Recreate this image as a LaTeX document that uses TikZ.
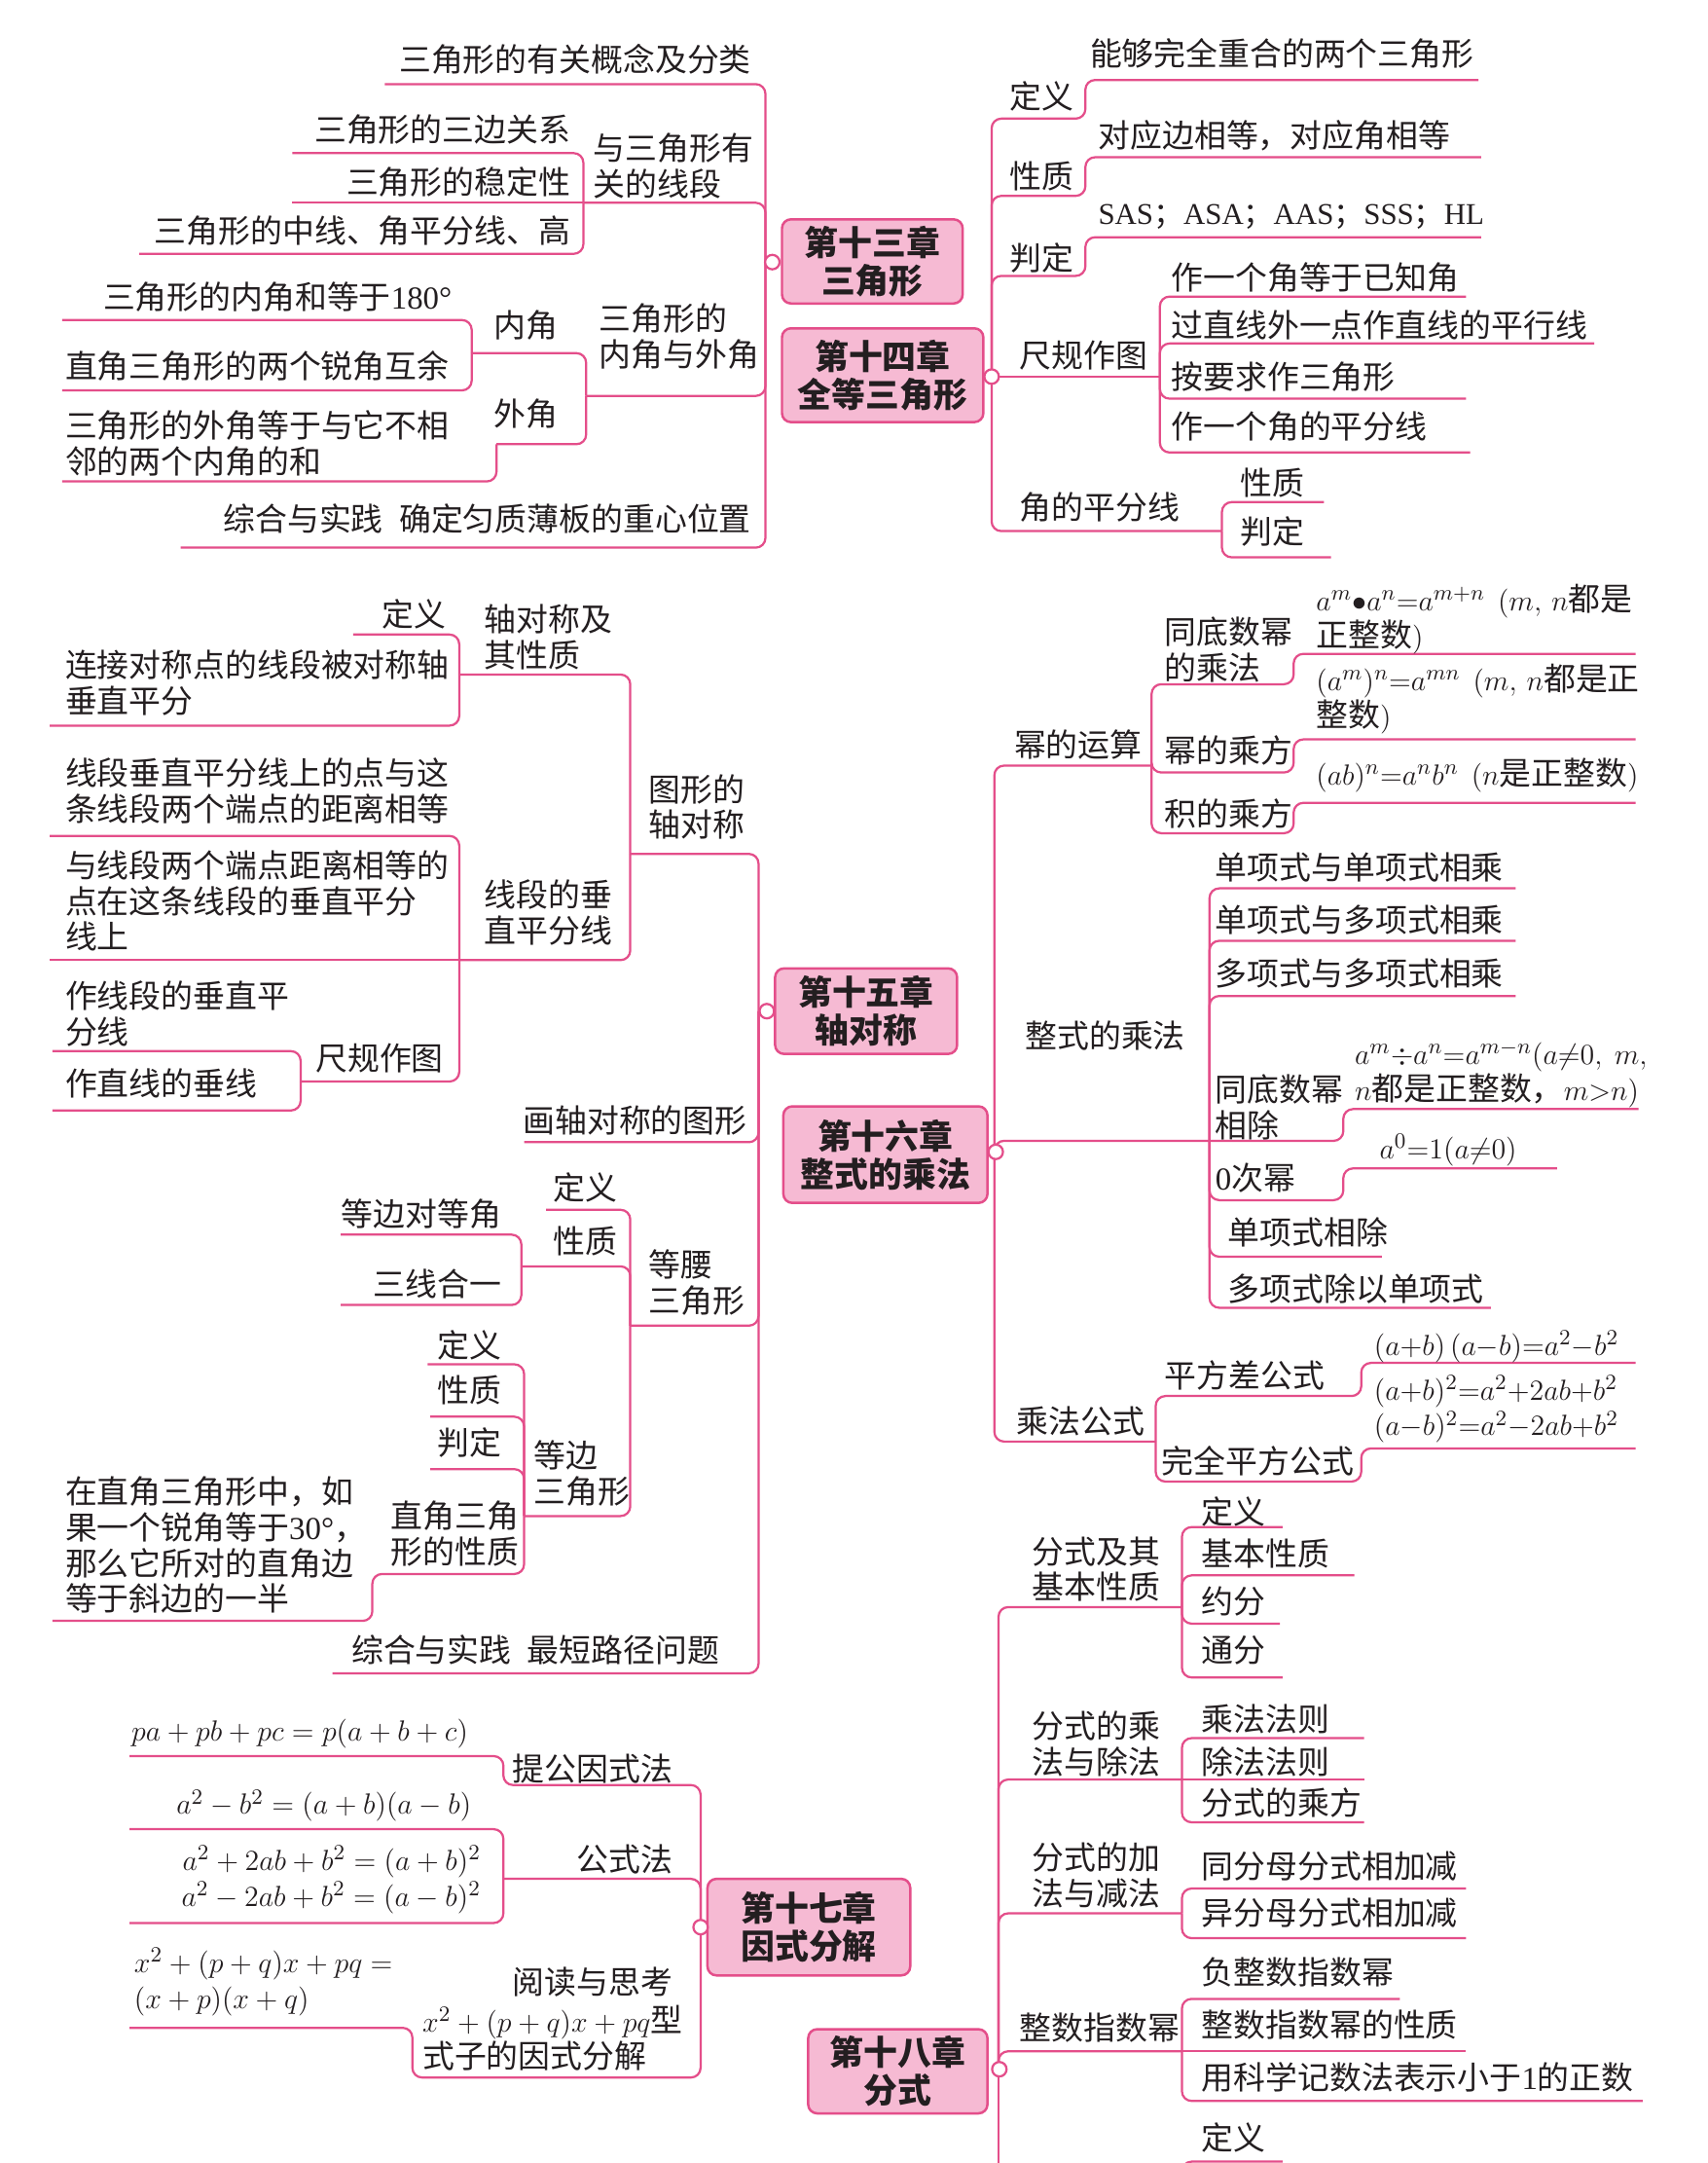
\documentclass[tikz,border=0pt]{standalone}
\usepackage{fontspec}
\setmainfont{Noto Sans CJK SC}
\newfontfamily\latin{Liberation Serif}
\definecolor{LineClr}{RGB}{228,78,138}
\definecolor{BoxClr}{RGB}{246,186,211}
\definecolor{TextClr}{RGB}{35,30,32}

\tikzset{
  branch/.style={draw=LineClr,line width=0.9pt,rounded corners=1.4mm},
  lbl/.style={inner sep=0pt,text=TextClr,font=\fontsize{13.2}{14.8}\selectfont},
  lblE/.style={lbl,anchor=east,align=right},
  lblW/.style={lbl,anchor=west,align=left},
  chapter/.style={draw=LineClr,fill=BoxClr,line width=1pt,rounded corners=1.3mm,
    align=center,inner sep=0pt,text=TextClr,font=\bfseries\fontsize{14}{15.6}\selectfont},
  knob/.style={circle,draw=LineClr,fill=white,line width=0.9pt,inner sep=0pt,minimum size=2.1mm}
}

\begin{document}
\begin{tikzpicture}[x=0.2mm,y=-0.2mm]
\useasboundingbox[fill=white] (0,0) rectangle (1238,1568);

% junctions
\coordinate (j13) at (555,190);
\coordinate (j13a) at (423,147);
\coordinate (j13b) at (425,287);
\coordinate (j13c) at (342,256);
\coordinate (j13d) at (360,322);

\coordinate (j14) at (719,273);
\coordinate (j14a) at (841,273);
\coordinate (j14b) at (886,385);

\coordinate (j15) at (550,733);
\coordinate (j15a) at (457,619);
\coordinate (j15b) at (333,489);
\coordinate (j15c) at (333,696);
\coordinate (j15d) at (218,784);
\coordinate (j15e) at (457,961);
\coordinate (j15f) at (378,918);
\coordinate (j15g) at (380,1099);

\coordinate (j16) at (721,835);
\coordinate (j16a) at (835,555);
\coordinate (j16b) at (877,827);
\coordinate (j16c) at (838,1045);

\coordinate (j17) at (508,1397);
\coordinate (j17a) at (365,1362);

\coordinate (j18) at (724,1500);
\coordinate (j18a) at (857,1165);
\coordinate (j18b) at (857,1290);
\coordinate (j18c) at (857,1387);
\coordinate (j18d) at (857,1487);

% chapter 13
\draw[branch] (j13) |- (279,61);
\draw[branch] (j13) |- (j13a);
\draw[branch] (j13a) |- (212,111);
\draw[branch] (j13a) -- (212,147);
\draw[branch] (j13a) |- (101,184);
\draw[branch] (j13) |- (j13b);
\draw[branch] (j13b) |- (j13c);
\draw[branch] (j13c) |- (45,232);
\draw[branch] (j13c) |- (45,283);
\draw[branch] (j13b) |- (j13d);
\draw[branch] (j13d) |- (45,349);
\draw[branch] (j13) |- (131,397);

\node[lblE] (a1) at (545,43) {三角形的有关概念及分类};
\node[lblW] (a2) at (430,120.5) {与三角形有\\关的线段};
\node[lblE] (a21) at (414,94) {三角形的三边关系};
\node[lblE] (a22) at (414,132) {三角形的稳定性};
\node[lblE] (a23) at (414,167) {三角形的中线、角平分线、高};
\node[lblW] (a3) at (434,244) {三角形的\\内角与外角};
\node[lblW] (a31) at (358,236) {内角};
\node[lblE] (a311) at (328,215) {三角形的内角和等于{\latin 180°}};
\node[lblE] (a312) at (326,265) {直角三角形的两个锐角互余};
\node[lblW] (a32) at (358,300) {外角};
\node[lblW] (a321) at (47,321.5) {三角形的外角等于与它不相\\邻的两个内角的和};
\node[lblE] (a4) at (545,376) {综合与实践\enspace 确定匀质薄板的重心位置};

% chapter 14
\draw[branch] (j14) |- (787,86) |- (1072,58);
\draw[branch] (j14) |- (787,142) |- (1074,114);
\draw[branch] (j14) |- (787,200) |- (1074,172);
\draw[branch] (j14) -- (j14a);
\draw[branch] (j14a) |- (1063,215);
\draw[branch] (j14a) |- (1156,249);
\draw[branch] (j14a) |- (1063,289);
\draw[branch] (j14a) |- (1066,328);
\draw[branch] (j14) |- (j14b);
\draw[branch] (j14b) |- (960,364);
\draw[branch] (j14b) |- (965,404);

\node[lblW] (b1) at (732,70) {定义};
\node[lblW] (b11) at (790,39) {能够完全重合的两个三角形};
\node[lblW] (b2) at (732,128) {性质};
\node[lblW] (b21) at (796,98) {对应边相等，对应角相等};
\node[lblW] (b3) at (732,187) {判定};
\node[lblW,font=\fontsize{12.4}{14}\selectfont] (b31) at (796,157) {{\latin SAS}；{\latin ASA}；{\latin AAS}；{\latin SSS}；{\latin HL}};
\node[lblW] (b4) at (739,258) {尺规作图};
\node[lblW] (b41) at (849,201) {作一个角等于已知角};
\node[lblW] (b42) at (849,236) {过直线外一点作直线的平行线};
\node[lblW] (b43) at (849,273) {按要求作三角形};
\node[lblW] (b44) at (849,309) {作一个角的平分线};
\node[lblW] (b5) at (739,368) {角的平分线};
\node[lblW] (b51) at (899,350) {性质};
\node[lblW] (b52) at (899,385) {判定};

% chapter 15
\draw[branch] (j15) |- (j15a);
\draw[branch] (j15a) |- (j15b);
\draw[branch] (j15b) |- (256,460);
\draw[branch] (j15b) |- (36,526);
\draw[branch] (j15a) |- (j15c);
\draw[branch] (j15c) |- (36,606);
\draw[branch] (j15c) -- (36,696);
\draw[branch] (j15c) |- (j15d);
\draw[branch] (j15d) |- (38,762);
\draw[branch] (j15d) |- (38,805);
\draw[branch] (j15) |- (380,828);
\draw[branch] (j15) |- (j15e);
\draw[branch] (j15e) |- (396,877);
\draw[branch] (j15e) |- (j15f);
\draw[branch] (j15f) |- (247,895);
\draw[branch] (j15f) |- (247,946);
\draw[branch] (j15e) |- (j15g);
\draw[branch] (j15g) |- (310,989);
\draw[branch] (j15g) |- (312,1027);
\draw[branch] (j15g) |- (312,1065);
\draw[branch] (j15g) |- (270,1141) |- (38,1175);
\draw[branch] (j15) |- (241,1213);

\node[lblW] (c1) at (470,585) {图形的\\轴对称};
\node[lblW] (c11) at (351,462) {轴对称及\\其性质};
\node[lblE] (c111) at (324,445) {定义};
\node[lblW] (c112) at (47,495) {连接对称点的线段被对称轴\\垂直平分};
\node[lblW] (c12) at (351,661.5) {线段的垂\\直平分线};
\node[lblW] (c121) at (47,573.5) {线段垂直平分线上的点与这\\条线段两个端点的距离相等};
\node[lblW] (c122) at (47,653) {与线段两个端点距离相等的\\点在这条线段的垂直平分\\线上};
\node[lblE] (c123) at (322,767) {尺规作图};
\node[lblW] (c1231) at (47,735) {作线段的垂直平\\分线};
\node[lblW] (c1232) at (47,785) {作直线的垂线};
\node[lblE] (c2) at (542,812) {画轴对称的图形};
\node[lblW] (c3) at (470,930) {等腰\\三角形};
\node[lblE] (c31) at (448,861) {定义};
\node[lblE] (c32) at (448,900) {性质};
\node[lblE] (c321) at (364,880) {等边对等角};
\node[lblE] (c322) at (364,931) {三线合一};
\node[lblW] (c33) at (387,1068) {等边\\三角形};
\node[lblE] (c331) at (364,975) {定义};
\node[lblE] (c332) at (364,1008) {性质};
\node[lblE] (c333) at (364,1046) {判定};
\node[lblW] (c334) at (283,1112) {直角三角\\形的性质};
\node[lblW] (c3341) at (47,1120) {在直角三角形中，如\\果一个锐角等于{\latin 30°}，\\那么它所对的直角边\\等于斜边的一半};
\node[lblE] (c4) at (522,1196) {综合与实践\enspace 最短路径问题};

% chapter 16
\draw[branch] (j16) |- (j16a);
\draw[branch] (j16a) |- (938,496) |- (1186,474);
\draw[branch] (j16a) |- (938,560) |- (1186,536);
\draw[branch] (j16a) |- (938,604) |- (1186,582);
\draw[branch] (j16) |- (j16b);
\draw[branch] (j16b) |- (1099,644);
\draw[branch] (j16b) |- (1099,682);
\draw[branch] (j16b) |- (1099,722);
\draw[branch] (j16b) -- (974,827) |- (1188,804);
\draw[branch] (j16b) |- (974,870) |- (1129,847);
\draw[branch] (j16b) |- (1002,911);
\draw[branch] (j16b) |- (1081,948);
\draw[branch] (j16) |- (j16c);
\draw[branch] (j16c) |- (987,1012) |- (1186,988);
\draw[branch] (j16c) |- (987,1074) |- (1186,1050);

\node[lblW] (d1) at (735,540) {幂的运算};
\node[lblW] (d11) at (844,471) {同底数幂\\的乘法};
\node[lblW] (d111) at (954,449) {$a^m{\bullet}a^n{=}a^{m+n}$\,\ $(m,\,n$都是\\正整数$)$};
\node[lblW] (d12) at (844,544) {幂的乘方};
\node[lblW] (d121) at (954,506.5) {$(a^m)^n{=}a^{mn}$\,\ $(m,\,n$都是正\\整数$)$};
\node[lblW] (d13) at (844,590) {积的乘方};
\node[lblW] (d131) at (954,562) {$(ab)^n{=}a^nb^n$\,\ $(n$是正整数$)$};
\node[lblW] (d2) at (743,751) {整式的乘法};
\node[lblW] (d21) at (881,629) {单项式与单项式相乘};
\node[lblW] (d22) at (881,667) {单项式与多项式相乘};
\node[lblW] (d23) at (881,706) {多项式与多项式相乘};
\node[lblW] (d24) at (881,802.5) {同底数幂\\相除};
\node[lblW] (d241) at (982,779) {$a^m{\div}a^n{=}a^{m-n}(a{\neq}0,\ m,$\\$n$都是正整数，$m{>}n)$};
\node[lblW] (d25) at (881,854) {{\latin 0}次幂};
\node[lblW] (d251) at (1000,834) {$a^0{=}1(a{\neq}0)$};
\node[lblW] (d26) at (890,893) {单项式相除};
\node[lblW] (d27) at (890,934) {多项式除以单项式};
\node[lblW] (d3) at (737,1030) {乘法公式};
\node[lblW] (d31) at (844,997) {平方差公式};
\node[lblW] (d311) at (996,976) {$(a{+}b)\,(a{-}b){=}a^2{-}b^2$};
\node[lblW] (d32) at (842,1059) {完全平方公式};
\node[lblW] (d321) at (996,1021.5) {$(a{+}b)^2{=}a^2{+}2ab{+}b^2$\\$(a{-}b)^2{=}a^2{-}2ab{+}b^2$};

% chapter 17
\draw[branch] (j17) |- (365,1294) |- (94,1273);
\draw[branch] (j17) |- (j17a);
\draw[branch] (j17a) |- (94,1326);
\draw[branch] (j17a) |- (94,1394);
\draw[branch] (j17) |- (299,1506) |- (94,1470);

\node[lblE] (e1) at (488,1282) {提公因式法};
\node[lblW] (e11) at (95,1257) {$pa+pb+pc=p(a+b+c)$};
\node[lblE] (e2) at (488,1348) {公式法};
\node[lblE] (e21) at (342,1309) {$a^2-b^2=(a+b)(a-b)$};
\node[lblE] (e22) at (349,1362.5) {$a^2+2ab+b^2=(a+b)^2$\\$a^2-2ab+b^2=(a-b)^2$};
\node[lblE] (e3) at (488,1437) {阅读与思考};
\node[lblW] (e3b) at (306,1477.5) {$x^2+(p+q)x+pq$型\\式子的因式分解};
\node[lblW] (e31) at (97,1436.5) {$x^2+(p+q)x+pq=$\\$(x+p)(x+q)$};

% chapter 18
\draw[branch] (j18) |- (j18a);
\draw[branch] (j18a) |- (930,1107);
\draw[branch] (j18a) |- (982,1142);
\draw[branch] (j18a) |- (928,1177);
\draw[branch] (j18a) |- (930,1216);
\draw[branch] (j18) |- (j18b);
\draw[branch] (j18b) |- (989,1260);
\draw[branch] (j18b) -- (989,1290);
\draw[branch] (j18b) |- (989,1321);
\draw[branch] (j18) |- (j18c);
\draw[branch] (j18c) |- (1063,1369);
\draw[branch] (j18c) |- (1063,1405);
\draw[branch] (j18) |- (j18d);
\draw[branch] (j18d) |- (1015,1449);
\draw[branch] (j18d) -- (1063,1487);
\draw[branch] (j18d) |- (1191,1523);
\draw[branch] (j18) -- (724,1600);
\draw[branch] (857,1600) |- (930,1567);

\node[lblW] (f1) at (748,1137.5) {分式及其\\基本性质};
\node[lblW] (f11) at (871,1096) {定义};
\node[lblW] (f12) at (871,1126) {基本性质};
\node[lblW] (f13) at (871,1161) {约分};
\node[lblW] (f14) at (871,1196) {通分};
\node[lblW] (f2) at (748,1264) {分式的乘\\法与除法};
\node[lblW] (f21) at (871,1246) {乘法法则};
\node[lblW] (f22) at (871,1277) {除法法则};
\node[lblW] (f23) at (871,1307) {分式的乘方};
\node[lblW] (f3) at (748,1359.5) {分式的加\\法与减法};
\node[lblW] (f31) at (871,1353) {同分母分式相加减};
\node[lblW] (f32) at (871,1387) {异分母分式相加减};
\node[lblW] (f4) at (739,1470) {整数指数幂};
\node[lblW] (f41) at (871,1430) {负整数指数幂};
\node[lblW] (f42) at (871,1467.5) {整数指数幂的性质};
\node[lblW] (f43) at (871,1506) {用科学记数法表示小于{\latin 1}的正数};
\node[lblW] (f5) at (871,1549.5) {定义};

% chapter boxes
\node[chapter,minimum width=26.2mm,minimum height=12.2mm] (ch13) at (632.5,189.5) {第十三章\\三角形};
\node[chapter,minimum width=29.2mm,minimum height=13.6mm] (ch14) at (640,272) {第十四章\\全等三角形};
\node[chapter,minimum width=26.4mm,minimum height=12.4mm] (ch15) at (628,733) {第十五章\\轴对称};
\node[chapter,minimum width=29.6mm,minimum height=14mm] (ch16) at (642,837) {第十六章\\整式的乘法};
\node[chapter,minimum width=29.4mm,minimum height=14mm] (ch17) at (586.5,1397) {第十七章\\因式分解};
\node[chapter,minimum width=26mm,minimum height=12.2mm] (ch18) at (651,1501.5) {第十八章\\分式};

\node[knob] (k13) at (560,190) {};
\node[knob] (k14) at (719,273) {};
\node[knob] (k15) at (556,733) {};
\node[knob] (k16) at (722,835) {};
\node[knob] (k17) at (508,1397) {};
\node[knob] (k18) at (724.6,1500) {};

\end{tikzpicture}
\end{document}
